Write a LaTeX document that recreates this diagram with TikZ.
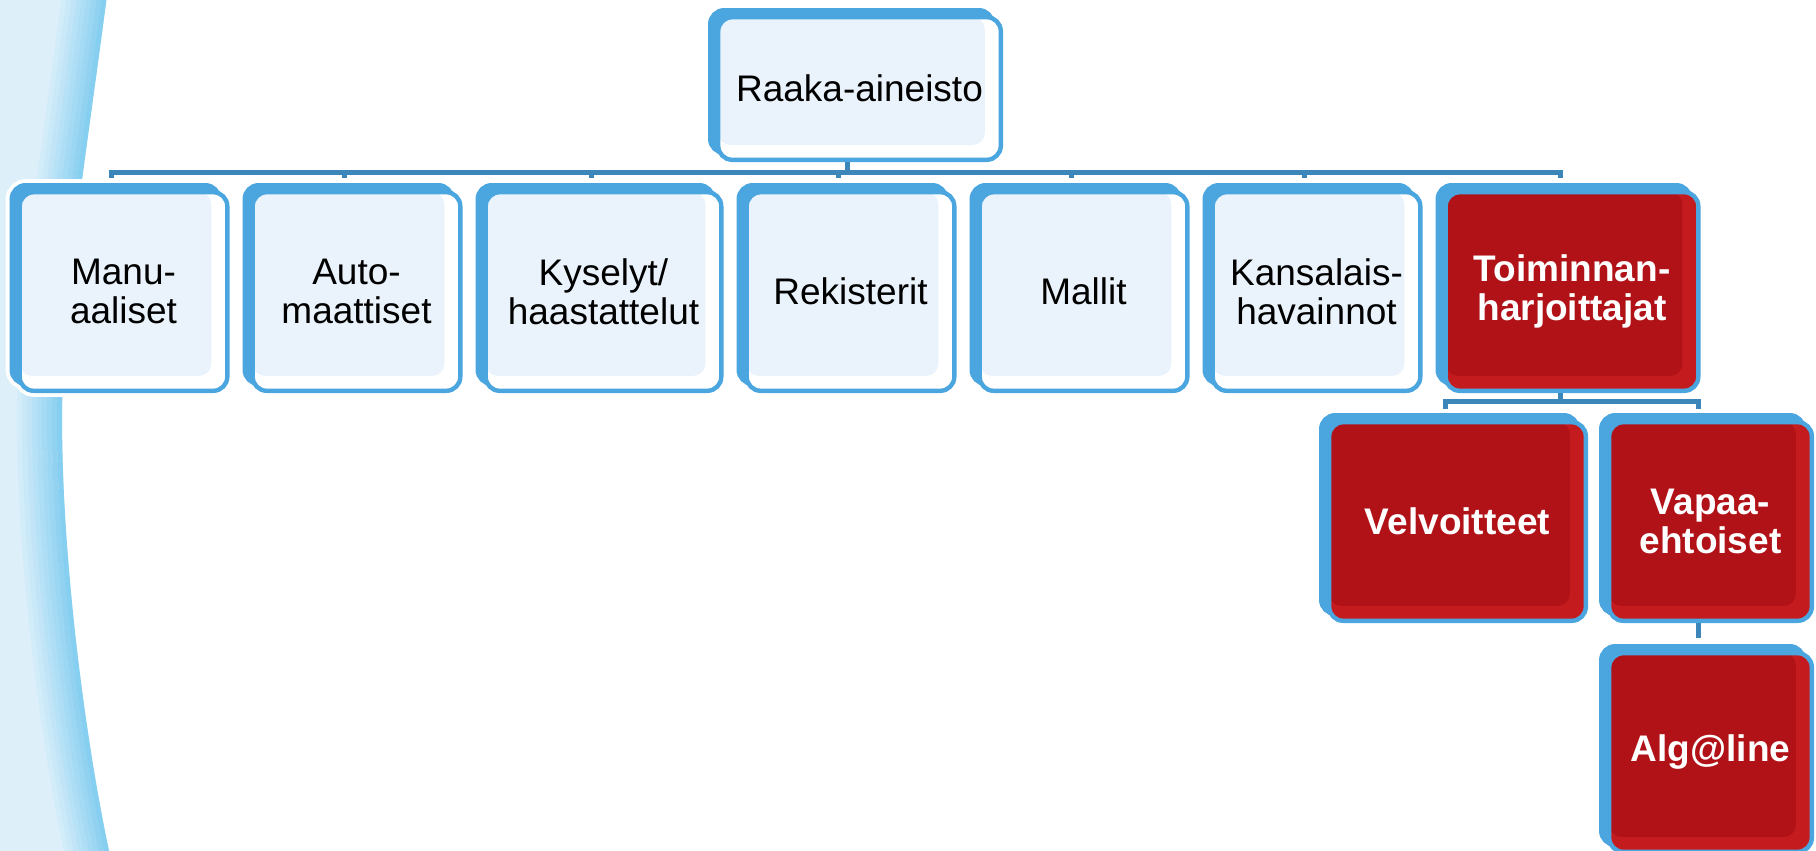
\documentclass[tikz,border=0pt]{standalone}
\usepackage{fontspec}
\setmainfont{Liberation Sans}
\usepackage{tikz}
\usetikzlibrary{positioning}

\definecolor{boxblue}{HTML}{4BA6E0}
\definecolor{connblue}{HTML}{3C86B9}
\definecolor{paleblue}{HTML}{EAF3FB}
\definecolor{reddark}{HTML}{B11217}
\definecolor{redlight}{HTML}{C41B1E}
\definecolor{bglight}{HTML}{DDF0FA}
\definecolor{bandblue}{HTML}{7ECBEF}

\tikzset{
	card/.style={rectangle, rounded corners=7pt, draw=boxblue, line width=2.2pt, inner sep=0pt,
		minimum width=103.8pt, minimum height=99.3pt, align=center,
		font=\fontsize{18.5}{19.5}\selectfont,
		preaction={draw=white, fill=white, line width=6pt, transform canvas={shift={(-4pt,3.5pt)}}},
		preaction={draw=white, fill=white, line width=6pt},
		preaction={draw=boxblue, fill=boxblue, line width=2.2pt, transform canvas={shift={(-4pt,3.5pt)}}}},
	pale/.style={card, fill=white,
		path picture={\fill[paleblue, rounded corners=6pt] (path picture bounding box.north west) rectangle ([shift={(-8pt,7.5pt)}]path picture bounding box.south east);}},
	redcard/.style={card, fill=redlight, text=white, font=\fontsize{18.5}{19.5}\selectfont\bfseries,
		path picture={\fill[reddark, rounded corners=6pt] (path picture bounding box.north west) rectangle ([shift={(-8pt,7.5pt)}]path picture bounding box.south east);}},
	conn/.style={draw=connblue, line width=2.5pt}
}

\begin{document}
\begin{tikzpicture}[x=0.5pt, y=-0.5pt]

	\useasboundingbox (0,0) rectangle (1816,851);

	\fill[bglight] (0,-5) -- (107,-5) .. controls (80,200) and (62,300) .. (62,420) .. controls (62,560) and (85,740) .. (110,856) -- (0,856) -- cycle;
	\foreach \d [count=\i] in {21.25,18.75,...,1.25} {
		\pgfmathtruncatemacro\p{10*\i}
		\draw[bandblue!\p!bglight, line width=2.6pt, xshift=-\d pt] (107,-5) .. controls (80,200) and (62,300) .. (62,420) .. controls (62,560) and (85,740) .. (110,856);
	}

	\node (root) [pale, minimum width=141.3pt, minimum height=71.3pt] at (859.5,88.5) {Raaka-aineisto};

	\node (manu) [pale] at (123.5,291.5) {Manu-\\aaliset};
	\node (auto) [pale, right=10.5pt of manu] {Auto-\\maattiset};
	\node (kysely) [pale, minimum width=117.8pt, right=10.5pt of auto] {Kyselyt/\\haastattelut};
	\node (rekisteri) [pale, right=10.5pt of kysely] {Rekisterit};
	\node (malli) [pale, right=10.5pt of rekisteri] {Mallit};
	\node (kansalais) [pale, right=10.5pt of malli] {Kansalais-\\havainnot};
	\node (toimija) [redcard, minimum width=126.3pt, right=10.5pt of kansalais] {Toiminnan-\\harjoittajat};

	\node (velvoite) [redcard, minimum width=128.3pt] at (1457.5,521.5) {Velvoitteet};
	\node (vapaa) [redcard, minimum width=101.3pt, right=9.5pt of velvoite] {Vapaa-\\ehtoiset};
	\node (algaline) [redcard, minimum width=101.3pt, below=14pt of vapaa] {Alg@line};

	\path[conn, shorten >=6pt] ([xshift=-6pt]root.south) -- ++(0,-5pt) -| ([xshift=-6pt]manu.north);
	\path[conn, shorten >=6pt] ([xshift=-6pt]root.south) -- ++(0,-5pt) -| ([xshift=-6pt]auto.north);
	\path[conn, shorten >=6pt] ([xshift=-6pt]root.south) -- ++(0,-5pt) -| ([xshift=-6pt]kysely.north);
	\path[conn, shorten >=6pt] ([xshift=-6pt]root.south) -- ++(0,-5pt) -| ([xshift=-6pt]rekisteri.north);
	\path[conn, shorten >=6pt] ([xshift=-6pt]root.south) -- ++(0,-5pt) -| ([xshift=-6pt]malli.north);
	\path[conn, shorten >=6pt] ([xshift=-6pt]root.south) -- ++(0,-5pt) -| ([xshift=-6pt]kansalais.north);
	\path[conn, shorten >=6pt] ([xshift=-6pt]root.south) -- ++(0,-5pt) -| ([xshift=-6pt]toimija.north);

	\path[conn, shorten >=5.5pt] ([xshift=-6pt]toimija.south) -- ++(0,-4.25pt) -| ([xshift=-6pt]velvoite.north);
	\path[conn, shorten >=5.5pt] ([xshift=-6pt]toimija.south) -- ++(0,-4.25pt) -| ([xshift=-6pt]vapaa.north);
	\path[conn, shorten >=6.5pt] ([xshift=-6pt]vapaa.south) -- ([xshift=-6pt]algaline.north);

\end{tikzpicture}
\end{document}
